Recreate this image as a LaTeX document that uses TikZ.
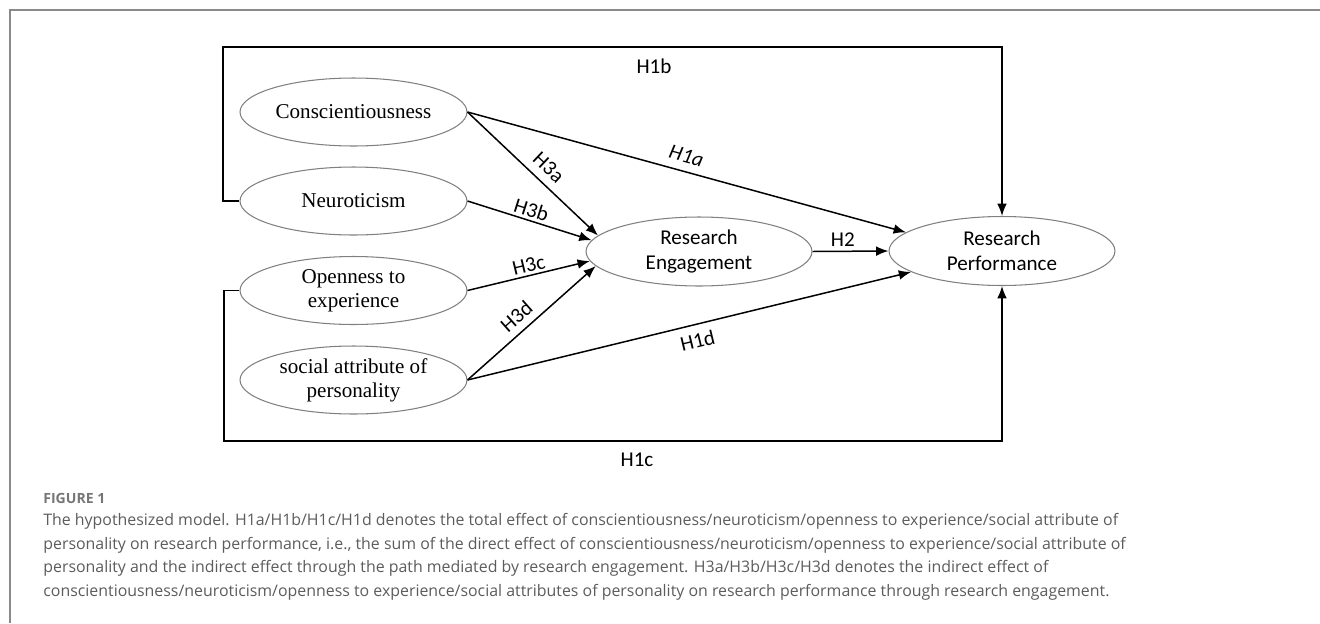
\documentclass[tikz,border=0pt]{standalone}
\usepackage{fontspec}
\setmainfont{Liberation Serif}
\newfontfamily\lblfont{Carlito}
\newfontfamily\capfont{Open Sans}
\usepackage{tikz}
\usetikzlibrary{shapes.geometric,positioning,arrows.meta}
\definecolor{framegray}{HTML}{8A8A8A}
\definecolor{capgray}{HTML}{5C5C5C}
\definecolor{figgray}{HTML}{767676}
\tikzstyle{factor} = [ellipse, draw=gray, line width=0.6pt, minimum width=4.54cm, minimum height=1.36cm, inner sep=0pt, align=center, font=\fontsize{12}{13.7}\selectfont]
\tikzstyle{outcome} = [ellipse, draw=gray, line width=0.6pt, minimum width=4.52cm, minimum height=1.38cm, inner sep=0pt, align=center, font=\lblfont\fontsize{12}{14.2}\selectfont]
\tikzstyle{arrow} = [line width=0.85pt, -{Latex[length=7pt,width=5.5pt]}]
\tikzset{
 lbl/.style
  = {font=\lblfont\fontsize{12}{14}\selectfont, inner sep=1.5pt},
 farlbl/.style
  = {lbl, inner sep=4.5pt},
 captxt/.style
  = {font=\capfont\fontsize{9.05}{13.32}\selectfont, text=capgray, align=left, inner sep=0pt},
}

\begin{document}
\begin{tikzpicture}[x=0.02cm, y=-0.02cm]
\useasboundingbox (0,0) rectangle (1320,623);
\draw [framegray, line width=1.1pt] (10,623) -- (10,10) -- (1320,10);
% personality factors
\node (consc) [factor] at (353.5,112) {Conscientiousness};
\node (neuro) [factor] at (353.5,201) {Neuroticism};
\node (open) [factor] at (353.5,290.5) {Openness to\\experience};
\node (social) [factor] at (353.5,380) {social attribute of\\personality};
\node (engage) [outcome] at (699,251.5) {Research\\Engagement};
\node (perf) [outcome] at (1002,251) {Research\\Performance};
\coordinate (topleft) at (223,47);
\coordinate (botleft) at (224,441);
% paths
\draw [arrow] (consc.east) -- node [lbl, above, sloped, pos=0.54, inner sep=4.5pt] {H3a} (engage.171);
\draw [arrow] (neuro.east) -- node [lbl, above, sloped, pos=0.49] {H3b} (engage.174.6);
\draw [arrow] (open.east) -- node [lbl, above, sloped, pos=0.52] {H3c} (engage.185.7);
\draw [arrow] (social.east) -- node [lbl, above, sloped, pos=0.46, inner sep=4pt] {H3d} (engage.188);
\draw [arrow] (consc.east) -- node [farlbl, above, sloped, pos=0.49, font=\lblfont\itshape\fontsize{12}{14}\selectfont] {H1a} (perf.169);
\draw [arrow] (social.east) -- node [farlbl, below, sloped, pos=0.51] {H1d} (perf.193);
\draw [arrow] (engage.east) -- node [lbl, above, pos=0.4, inner sep=2.5pt] {H2} (perf.west);
\draw [arrow] (neuro.west) -| (topleft) -| (perf.north);
\draw [arrow] (open.west) -| (botleft) -| (perf.south);
\node (h1b) [lbl] at (654,66) {H1b};
\node (h1c) [lbl] at (637,460) {H1c};
% caption
\node (fig) [captxt, anchor=base west, text=figgray, font=\capfont\bfseries\fontsize{8}{9}\selectfont] at (43,503) {FIGURE 1};
\node (captext) [captxt, anchor=base west] at (43,596) {The hypothesized model. H1a/H1b/H1c/H1d denotes the total effect of conscientiousness/neuroticism/openness to experience/social attribute of\\
personality on research performance, i.e., the sum of the direct effect of conscientiousness/neuroticism/openness to experience/social attribute of\\
personality and the indirect effect through the path mediated by research engagement. H3a/H3b/H3c/H3d denotes the indirect effect of\\
conscientiousness/neuroticism/openness to experience/social attributes of personality on research performance through research engagement.};
\end{tikzpicture}
\end{document}
